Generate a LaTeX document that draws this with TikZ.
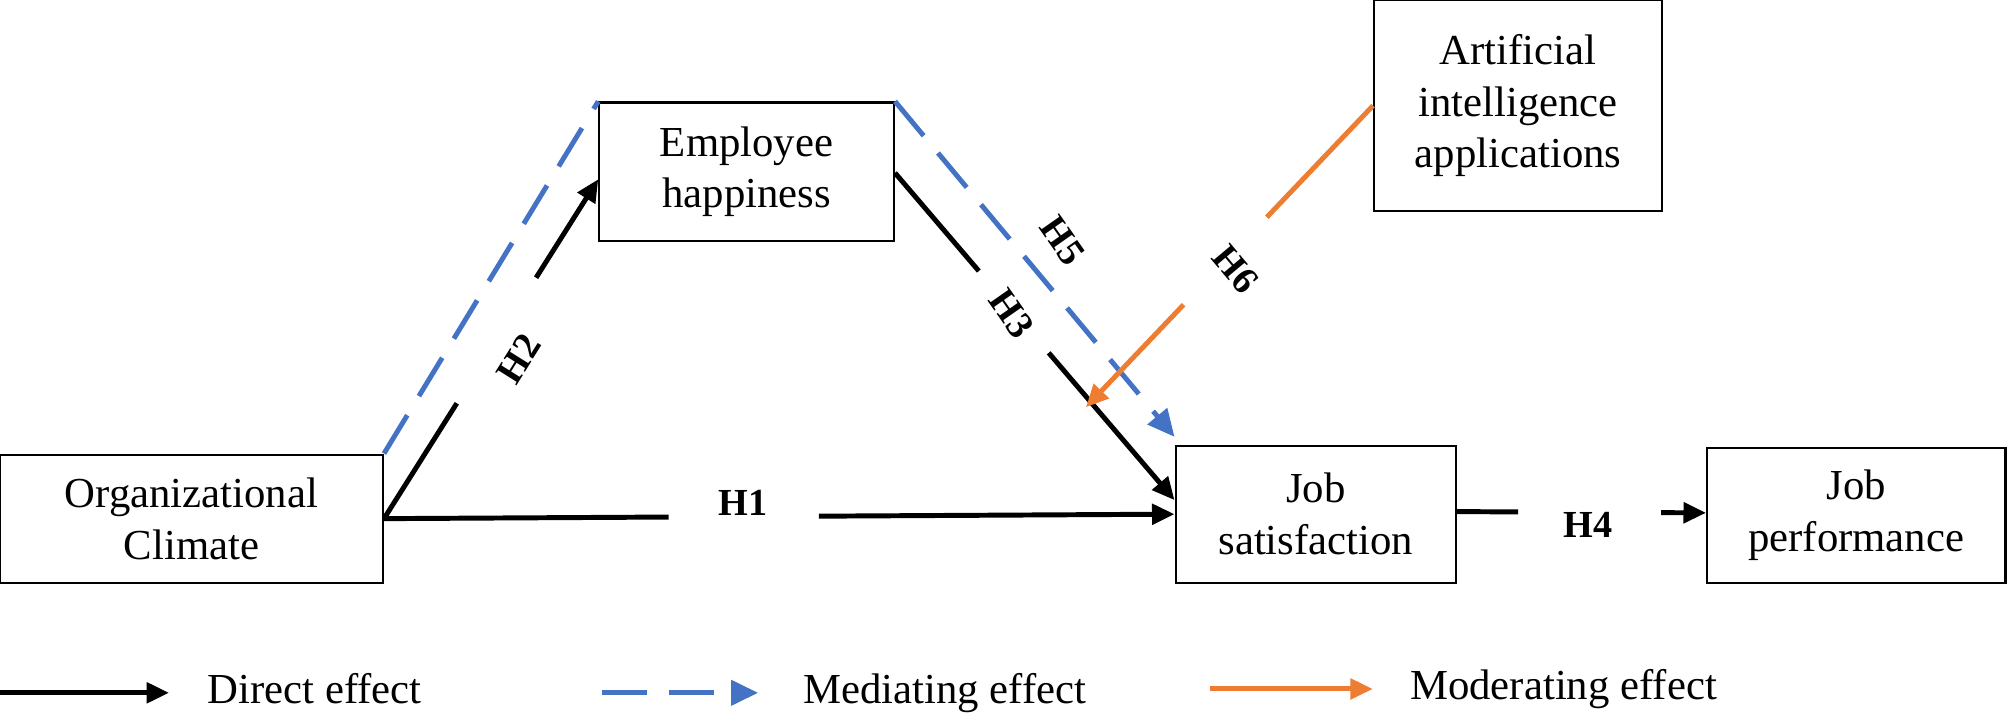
\documentclass[tikz,border=0pt]{standalone}
\usepackage{fontspec}
\setmainfont{Liberation Serif}
\usetikzlibrary{arrows.meta,calc}
\definecolor{myblue}{RGB}{68,114,196}
\definecolor{myorange}{RGB}{237,125,49}
\begin{document}
\begin{tikzpicture}[x=0.02cm,y=-0.02cm,
  box/.style={draw,line width=1pt,align=center,font=\fontsize{19}{23}\selectfont,inner sep=0pt},
  lab/.style={font=\bfseries\fontsize{17}{20}\selectfont,inner sep=1pt},
  blk/.style={line width=2.2pt,black},
  blkarr/.style={blk,-{Triangle[length=10pt,width=9pt]}},
  dsh/.style={line width=2.2pt,myblue,dash pattern=on 0.7cm off 0.35cm},
  dsharr/.style={dsh,-{Triangle[length=12pt,width=11pt]}},
  org/.style={line width=2.2pt,myorange},
  orgarr/.style={org,-{Triangle[length=10pt,width=9pt]}},
  legt/.style={anchor=west,font=\fontsize{19}{23}\selectfont}]
\useasboundingbox (0,0) rectangle (1568,560);
\node[box,minimum width=5.98cm,minimum height=2cm] (OC) at (149.5,405) {Organizational\\Climate};
\node[box,minimum width=4.6cm,minimum height=2.16cm] (EH) at (583,134) {Employee\\happiness};
\node[box,minimum width=4.5cm,minimum height=3.3cm] (AI) at (1185.5,82.5) {Artificial\\intelligence\\applications};
\node[box,minimum width=4.38cm,minimum height=2.14cm] (JS) at (1027.5,401.5) {Job\\satisfaction};
\node[box,minimum width=4.66cm,minimum height=2.1cm] (JP) at (1449.5,402.5) {Job\\performance};
\coordinate (h6e) at (848,318);
% mediating dashed
\draw[dsh] (OC.north east) -- (EH.north west);
\draw[dsharr] (EH.north east) -- ($(JS.north west)+(0,-6)$);
% H1
\draw[blk] (OC.east) -- ($(OC.east)!0.36!(JS.west)$);
\draw[blkarr] ($(OC.east)!0.55!(JS.west)$) -- (JS.west);
\node[lab] (l1) at (580,393) {H1};
% H2
\draw[blk] (OC.east) -- ($(OC.east)!0.34!([yshift=-0.12cm]EH.west)$);
\draw[blkarr] ($(OC.east)!0.71!([yshift=-0.12cm]EH.west)$) -- ([yshift=-0.12cm]EH.west);
\node[lab,rotate=58] (l2) at (405,280) {H2};
% H3
\draw[blk] ([yshift=-0.02cm]EH.east) -- ($([yshift=-0.02cm]EH.east)!0.30!([yshift=0.22cm]JS.west)$);
\draw[blkarr] ($([yshift=-0.02cm]EH.east)!0.55!([yshift=0.22cm]JS.west)$) -- ([yshift=0.22cm]JS.west);
\node[lab,rotate=-55] (l3) at (790,245) {H3};
\node[lab,rotate=-55] (l5) at (830,188) {H5};
% H6
\draw[org] (AI.west) -- ($(AI.west)!0.37!(h6e)$);
\draw[orgarr] ($(AI.west)!0.66!(h6e)$) -- (h6e);
\node[lab,rotate=-50] (l6) at (965,210) {H6};
% H4
\draw[blk] ([yshift=0.04cm]JS.east) -- ($([yshift=0.04cm]JS.east)!0.245!([yshift=0.04cm]JP.west)$);
\draw[blkarr] ($([yshift=0.04cm]JS.east)!0.82!([yshift=0.04cm]JP.west)$) -- ([yshift=0.04cm]JP.west);
\node[lab] (l4) at (1240,410) {H4};
% legend
\coordinate (a1) at (0,541); \coordinate (a2) at (132,541);
\draw[blkarr] (a1) -- (a2);
\node[legt] (t1) at (156,538) {Direct effect};
\coordinate (b1) at (470,541); \coordinate (b2) at (592,541);
\draw[dsharr] (b1) -- (b2);
\node[legt] (t2) at (621,541) {Mediating effect};
\coordinate (c1) at (945,538); \coordinate (c2) at (1072,538);
\draw[orgarr] (c1) -- (c2);
\node[legt] (t3) at (1095,538) {Moderating effect};
\end{tikzpicture}
\end{document}
